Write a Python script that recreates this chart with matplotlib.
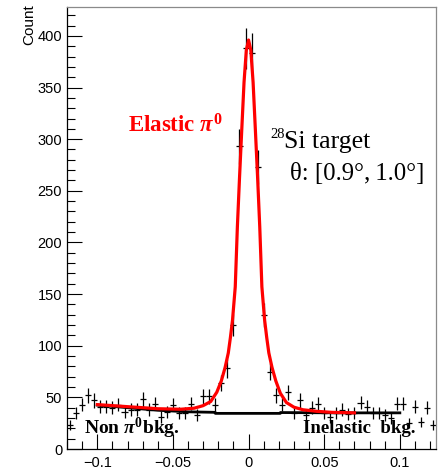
import numpy as np
import matplotlib
matplotlib.use("Agg")
import matplotlib.pyplot as plt
from matplotlib.ticker import MultipleLocator

plt.rcParams['mathtext.fontset'] = 'custom'
plt.rcParams['mathtext.rm'] = 'Liberation Serif:bold'
plt.rcParams['mathtext.it'] = 'Liberation Serif:bold:italic'
plt.rcParams['mathtext.bf'] = 'Liberation Serif:bold'

# histogram data (bin centers, counts)
bin_width = 0.004
centers = [round(-0.118 + 0.004 * i, 3) for i in range(61)]
counts = [23, 35, 43, 52, 47, 41, 41, 40, 43, 36,
          38, 38, 48, 38, 44, 31, 36, 43, 35, 35,
          44, 33, 51, 51, 43, 64, 78, 120, 293, 388,
          383, 273, 130, 75, 52, 43, 55, 35, 47, 33,
          40, 44, 35, 31, 35, 38, 34, 35, 45, 41,
          35, 35, 33, 30, 44, 44, 25, 41, 26, 40, 23]

# fitted total curve
fit_x = [-0.100, -0.080, -0.060, -0.045, -0.036, -0.030, -0.025, -0.021, -0.018,
         -0.0155, -0.0134, -0.012, -0.0106, -0.0088, -0.0074, -0.006, -0.0045,
         -0.003, -0.0015, 0.0, 0.0015, 0.003, 0.0045, 0.006, 0.0074, 0.0088,
         0.0106, 0.012, 0.0134, 0.0155, 0.018, 0.021, 0.025, 0.030, 0.036,
         0.045, 0.055, 0.070]
fit_y = [43, 41, 39, 38.5, 39.5, 42, 46, 55, 66,
         79, 93, 108, 125, 157, 215, 262, 309,
         355, 386, 396, 386, 355, 309, 262, 215, 157,
         125, 108, 93, 79, 66, 54, 45, 40.5, 38,
         36.5, 35.5, 35]

# background curve
bkg_x = [-0.100, -0.080, -0.060, -0.040, -0.022, -0.022, 0.021, 0.021, 0.060, 0.100]
bkg_y = [42.5, 40, 37.5, 36, 35.5, 34.5, 34.5, 35.3, 35, 35]

fig = plt.figure(figsize=(4.41, 4.71), dpi=100)
ax = fig.add_axes([0.152, 0.0467, 0.837, 0.9385])

x = np.array(centers)
y = np.array(counts, dtype=float)
ax.errorbar(x, y, yerr=np.sqrt(y), xerr=bin_width / 2, fmt='none',
            ecolor='black', elinewidth=0.9, capsize=0, zorder=2)
ax.plot(bkg_x, bkg_y, color='black', lw=2.0, zorder=3)
ax.plot(fit_x, fit_y, color='red', lw=2.3, zorder=4)

ax.set_xlim(-0.12, 0.124)
ax.set_ylim(0, 428)

ax.xaxis.set_major_locator(MultipleLocator(0.05))
ax.xaxis.set_minor_locator(MultipleLocator(0.01))
ax.yaxis.set_major_locator(MultipleLocator(50))
ax.yaxis.set_minor_locator(MultipleLocator(10))
ax.tick_params(which='both', direction='in', top=False, right=False,
               labelsize=10.5, colors='black')
ax.tick_params(which='major', length=11, width=0.8)
ax.tick_params(which='minor', length=5.5, width=0.8)
ax.xaxis.set_major_formatter(matplotlib.ticker.FuncFormatter(
    lambda v, p: '0' if abs(v) < 1e-9 else ('%g' % v).replace('-', '\u2212')))
for lab in ax.get_xticklabels() + ax.get_yticklabels():
    lab.set_family('Liberation Sans')
ax.tick_params(axis='x', pad=5)

for s in ['top', 'right']:
    ax.spines[s].set_color('#8a8a8a')
    ax.spines[s].set_linewidth(0.9)
for s in ['left', 'bottom']:
    ax.spines[s].set_color('black')
    ax.spines[s].set_linewidth(0.9)

fig.text(0.066, 0.99, 'Count', rotation=90, ha='center', va='top',
         fontsize=11, family='Liberation Sans')

ax.text(-0.0796, 306, r'Elastic $\pi^{0}$', color='red', fontsize=16.5,
        family='Liberation Serif', fontweight='bold', ha='left', va='baseline')
ax.text(0.0145, 301, '28', fontsize=10.5, family='Liberation Serif',
        ha='left', va='baseline')
ax.text(0.0235, 291.5, 'Si target', fontsize=18.5, family='Liberation Serif',
        ha='left', va='baseline')
ax.text(0.0276, 260.5, '\u03b8: [0.9\u00b0,\u20091.0\u00b0]', fontsize=17.8,
        family='Liberation Serif', ha='left', va='baseline')
ax.text(-0.109, 14.5, r'Non $\pi^{0}$bkg.', fontsize=14,
        family='Liberation Serif', fontweight='bold', ha='left', va='baseline')
ax.text(0.036, 15.5, 'Inelastic  bkg.', fontsize=13.5,
        family='Liberation Serif', fontweight='bold', ha='left', va='baseline')

fig.savefig('out.png', dpi=100)
